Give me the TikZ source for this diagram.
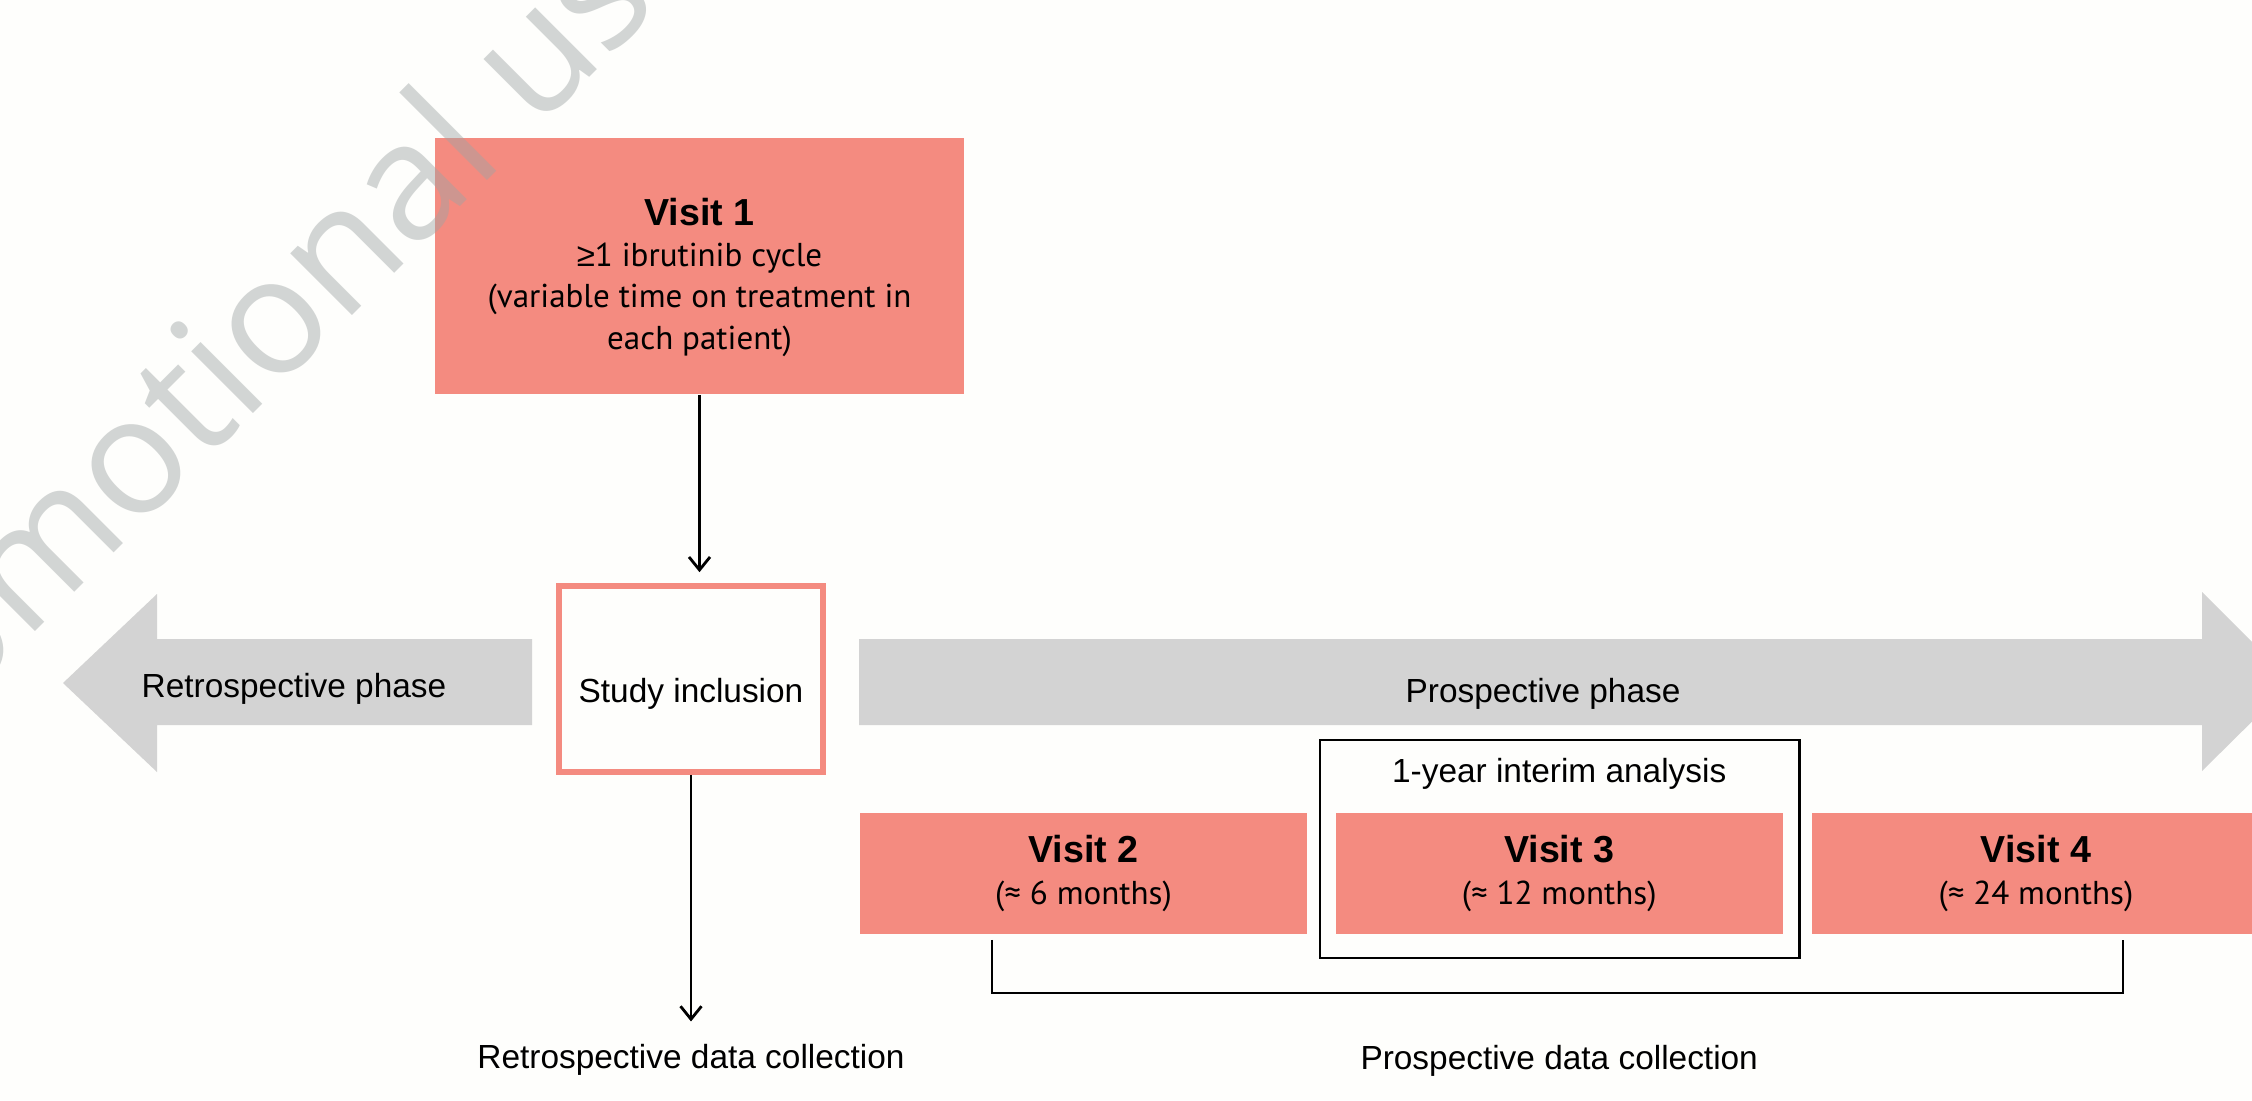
\documentclass[tikz,border=0pt]{standalone}
\usepackage{fontspec}
\setmainfont{Liberation Sans}
\newfontfamily\myriadfont{PT Sans}
\newfontfamily\wmfont{Open Sans}
\usetikzlibrary{arrows.meta, positioning}

\definecolor{visitpink}{RGB}{244,139,128}
\definecolor{phasegray}{RGB}{211,211,211}
\definecolor{wmgray}{RGB}{158,164,164}
\definecolor{paper}{RGB}{254,254,252}

\newcommand{\vhead}[1]{{\normalfont\bfseries\fontsize{10.7}{12}\selectfont #1}}

\begin{document}
\begin{tikzpicture}[
        x=0.01cm, y=-0.01cm,
        visit/.style={rectangle, fill=visitpink, inner sep=0pt, minimum width=4.47cm, minimum height=1.21cm, align=center, font=\myriadfont\fontsize{9.4}{12}\selectfont},
        inclusion/.style={rectangle, draw=visitpink, line width=0.055cm, fill=paper, minimum width=2.64cm, minimum height=1.86cm, font=\fontsize{9.5}{11}\selectfont, text height=0.5cm, text depth=0.04cm},
        lbl/.style={inner sep=0pt, font=\fontsize{9.5}{11}\selectfont},
        phase/.style={fill=phasegray},
        frame/.style={draw=black, line width=0.7pt},
        bracket/.style={draw=black, line width=0.7pt},
        arrow/.style={-{Straight Barb[length=0.13cm, width=0.21cm]}, line width=0.8pt}
    ]
        \useasboundingbox (0,0) rectangle (2252,1100);
        \clip (0,0) rectangle (2252,1100);
        \fill[paper] (0,0) rectangle (2252,1100);

        % Phase arrows
        \fill[phase] (532,639) -- (157,639) -- (157,594) -- (63,683) -- (157,772) -- (157,725) -- (532,725) -- cycle;
        \fill[phase] (859,639) -- (2202,639) -- (2202,592) -- (2292,682) -- (2202,771) -- (2202,725) -- (859,725) -- cycle;
        \node[lbl] (retro) at (294,689) {Retrospective phase};
        \node[lbl] (prosp) at (1543,694) {Prospective phase};

        % Nodes
        \node[visit, minimum width=5.29cm, minimum height=2.56cm, font=\myriadfont\fontsize{9.4}{11.7}\selectfont] (v1) at (699.5,266) {\vhead{\rule{0pt}{0.5cm}Visit 1}\\ {\normalfont ≥}1 ibrutinib cycle\\ (variable time on treatment in\\ each patient)};
        \node[inclusion] (inc) at (691,679) {Study inclusion};
        \node[visit] (v2) at (1083.5,873.5) {\vhead{Visit 2}\\ (≈ 6 months)};
        \node[visit, right=0.27cm of v2] (v3) {\vhead{Visit 3}\\ (≈ 12 months)};
        \node[visit, right=0.28cm of v3] (v4) {\vhead{Visit 4}\\ (≈ 24 months)};
        \node[lbl, above=0.22cm of v3] (interim) {1-year interim analysis};
        \node[lbl, below=2.69cm of inc] (rdc) {Retrospective data collection};
        \node[lbl, below=1.1cm of v3] (pdc) {Prospective data collection};

        % Arrows
        \draw[arrow, shorten >=0.11cm] (v1.south) -- (v1.south |- inc.north);
        \draw[arrow, shorten >=0.225cm] (inc.south) -- (rdc.north);

        % Interim frame and bracket
        \draw[frame] ([xshift=-0.15cm, yshift=0.72cm]v3.north west) rectangle ([xshift=0.16cm, yshift=-0.23cm]v3.south east);
        \draw[bracket] ([xshift=1.33cm, yshift=-0.05cm]v2.south west) -- ++(0,53) -| ([xshift=3.11cm, yshift=-0.05cm]v4.south west);

        % Watermark
        \node[text=wmgray, text opacity=0.45, font=\wmfont\fontsize{46.4}{50}\selectfont, rotate=45, anchor=base west, inner sep=0pt] (wm) at (-159,826) {Promotional use};
    \end{tikzpicture}
\end{document}
